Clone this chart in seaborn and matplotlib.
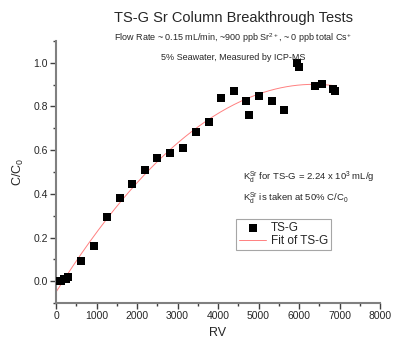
import numpy as np
import pandas as pd
import matplotlib
matplotlib.use("Agg")
import matplotlib.pyplot as plt
import seaborn as sns
from matplotlib.ticker import MultipleLocator

# Data
bv = [60, 120, 200, 250, 305, 617, 930, 1251, 1572, 1877, 2198, 2502, 2815, 3128,
      3449, 3770, 4067, 4383, 4691, 4757, 5012, 5325, 5630, 5943, 6008, 6388,
      6568, 6832, 6889]
c_c0 = [0.0, 0.0, 0.01, 0.012, 0.02, 0.093, 0.162, 0.295, 0.382, 0.446, 0.511,
        0.566, 0.589, 0.612, 0.685, 0.731, 0.841, 0.872, 0.827, 0.763, 0.850,
        0.827, 0.786, 1.001, 0.980, 0.896, 0.905, 0.882, 0.873]

title = "TS-G Sr Column Breakthrough Tests"
sub1 = r"Flow Rate ~ 0.15 mL/min, ~900 ppb Sr$^{2+}$, ~ 0 ppb total Cs$^{+}$"
sub2 = "5% Seawater, Measured by ICP-MS"
note1 = r"K$_{\rm d}^{\rm Sr}$ for TS-G = 2.24 x 10$^{3}$ mL/g"
note2 = r"K$_{\rm d}^{\rm Sr}$ is taken at 50% C/C$_{\rm 0}$"

sns.set_style("ticks")
plt.rcParams['font.family'] = ['Liberation Sans', 'DejaVu Sans']
plt.rcParams['mathtext.fontset'] = 'custom'
plt.rcParams['mathtext.rm'] = 'Liberation Sans'
plt.rcParams['mathtext.it'] = 'Liberation Sans'

df = pd.DataFrame({"BV": bv, "C": c_c0})

# fit curve from data
coef = np.polyfit(df["BV"], df["C"], 3)
xf = np.linspace(0, 6900, 200)
fit = pd.DataFrame({"BV": xf, "C": np.polyval(coef, xf)})

fig = plt.figure(figsize=(3.93, 3.41), dpi=100)
ax = fig.add_axes([0.1425, 0.1114, 0.8245, 0.7684])

sns.lineplot(data=fit, x="BV", y="C", ax=ax, color="#ff8080", lw=0.7,
             label="Fit of TS-G", zorder=2)
sns.scatterplot(data=df, x="BV", y="C", ax=ax, marker="s", color="black",
                s=28, linewidth=0, label="TS-G", zorder=3)

ax.set_xlim(0, 8000)
ax.set_ylim(-0.1, 1.1)
ax.xaxis.set_major_locator(MultipleLocator(1000))
ax.xaxis.set_minor_locator(MultipleLocator(500))
ax.yaxis.set_major_locator(MultipleLocator(0.2))
ax.yaxis.set_minor_locator(MultipleLocator(0.1))
ax.set_yticks([0.0, 0.2, 0.4, 0.6, 0.8, 1.0])
ax.set_yticklabels(["0.0", "0.2", "0.4", "0.6", "0.8", "1.0"])
ax.tick_params(which="major", length=4, width=1, color="#404040", labelsize=7.5, pad=2)
ax.tick_params(which="minor", length=2.5, width=1, color="#404040")
for s in ["top", "right"]:
    ax.spines[s].set_visible(False)
for s in ["left", "bottom"]:
    ax.spines[s].set_color("#808080")
    ax.spines[s].set_linewidth(1.5)

ax.set_xlabel("RV", fontsize=9, labelpad=4)
ax.set_ylabel(r"C/C$_{\rm 0}$", fontsize=9, labelpad=5)

fig.text(0.594, 0.948, title, ha="center", va="center", fontsize=10.5)
fig.text(0.594, 0.888, sub1, ha="center", va="center", fontsize=6.5)
fig.text(0.594, 0.830, sub2, ha="center", va="center", fontsize=6.5)
fig.text(0.618, 0.48, note1, ha="left", va="center", fontsize=6.8)
fig.text(0.618, 0.418, note2, ha="left", va="center", fontsize=6.8)

h, l = ax.get_legend_handles_labels()
leg = ax.legend([h[1], h[0]], [l[1], l[0]], loc="upper left",
                bbox_to_anchor=(0.556, 0.32), fontsize=8.5, frameon=True,
                fancybox=False, edgecolor="#909090", handlelength=2.3,
                borderpad=0.25, labelspacing=0.1, handletextpad=0.4,
                borderaxespad=0)
leg.get_frame().set_linewidth(0.8)

fig.savefig("out.png", dpi=100)
